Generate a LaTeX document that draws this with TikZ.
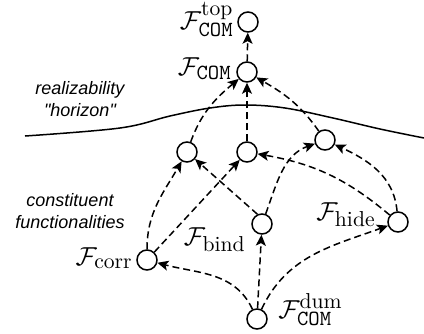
\RequirePackage{fix-cm}
\documentclass[tikz,border=0pt]{standalone}
\usepackage{fontspec}
\newfontfamily\labelfont{Liberation Sans}
\DeclareMathSizes{13}{13}{10.8}{8}
\usetikzlibrary{arrows.meta}
\begin{document}
\begin{tikzpicture}[x=0.5pt,y=-0.5pt,
  fn/.style={circle,draw,line width=0.75pt,minimum size=10pt,inner sep=0pt},
  lbl/.style={font=\fontsize{13}{15}\selectfont,inner sep=0pt},
  edge/.style={line width=0.75pt,dash pattern=on 3.5pt off 2pt,-{Stealth[length=5.5pt,width=5pt,inset=1.3pt]}},
  side/.style={font=\labelfont\itshape\fontsize{9}{11}\selectfont,align=center,inner sep=0pt}
]
\useasboundingbox (0,0) rectangle (424,333);
% horizon
\draw[line width=0.75pt] plot[smooth,tension=0.6] coordinates{(25,136) (120,128) (170,116) (210,108) (245,105) (285,108) (333,118) (380,129) (424,138)};
% nodes
\node[fn] (top) at (248,22) {};
\node[fn] (com) at (247,72) {};
\node[fn] (a) at (187,152) {};
\node[fn] (b) at (247,152) {};
\node[fn] (c) at (325,140) {};
\node[fn] (corr) at (147,260) {};
\node[fn] (bind) at (262,224) {};
\node[fn] (hide) at (398,222) {};
\node[fn] (dum) at (257,319) {};
% labels
\node[lbl,anchor=base east] (ltop) at (234,29) {$\mathcal{F}^{\mathrm{top}}_{\mathtt{COM}}$};
\node[lbl,anchor=base east] (lcom) at (232,75) {$\mathcal{F}_{\mathtt{COM}}$};
\node[lbl,anchor=base east] (lcorr) at (133,265) {$\mathcal{F}_{\mathrm{corr}}$};
\node[lbl,anchor=base east] (lbind) at (246,245) {$\mathcal{F}_{\mathrm{bind}}$};
\node[lbl,anchor=base east] (lhide) at (376,220) {$\mathcal{F}_{\mathrm{hide}}$};
\node[lbl,anchor=base west] (ldum) at (278,318) {$\mathcal{F}^{\mathrm{dum}}_{\mathtt{COM}}$};
\node[side] (hor) at (80,99) {realizability\\"horizon"};
\node[side] (cons) at (70,211) {constituent\\functionalities};
% edges
\draw[edge] (com) -- (top);
\draw[edge] (a) to[out=70,in=220] (com);
\draw[edge] (b) -- (com);
\draw[edge] (c) to[out=125,in=-30] (com);
\draw[edge] (corr) to[out=90,in=240] (a);
\draw[edge] (corr) -- (b);
\draw[edge] (bind.115) -- (a);
\draw[edge] (bind) to[out=70,in=200] (c);
\draw[edge] (hide) to[out=140,in=-10] (b);
\draw[edge] (hide) to[out=95,in=-25] (c);
\draw[edge] (dum) to[out=115,in=-15] (corr);
\draw[edge] (dum) -- (bind);
\draw[edge] (dum) to[out=65,in=200] (hide);
\end{tikzpicture}
\end{document}
